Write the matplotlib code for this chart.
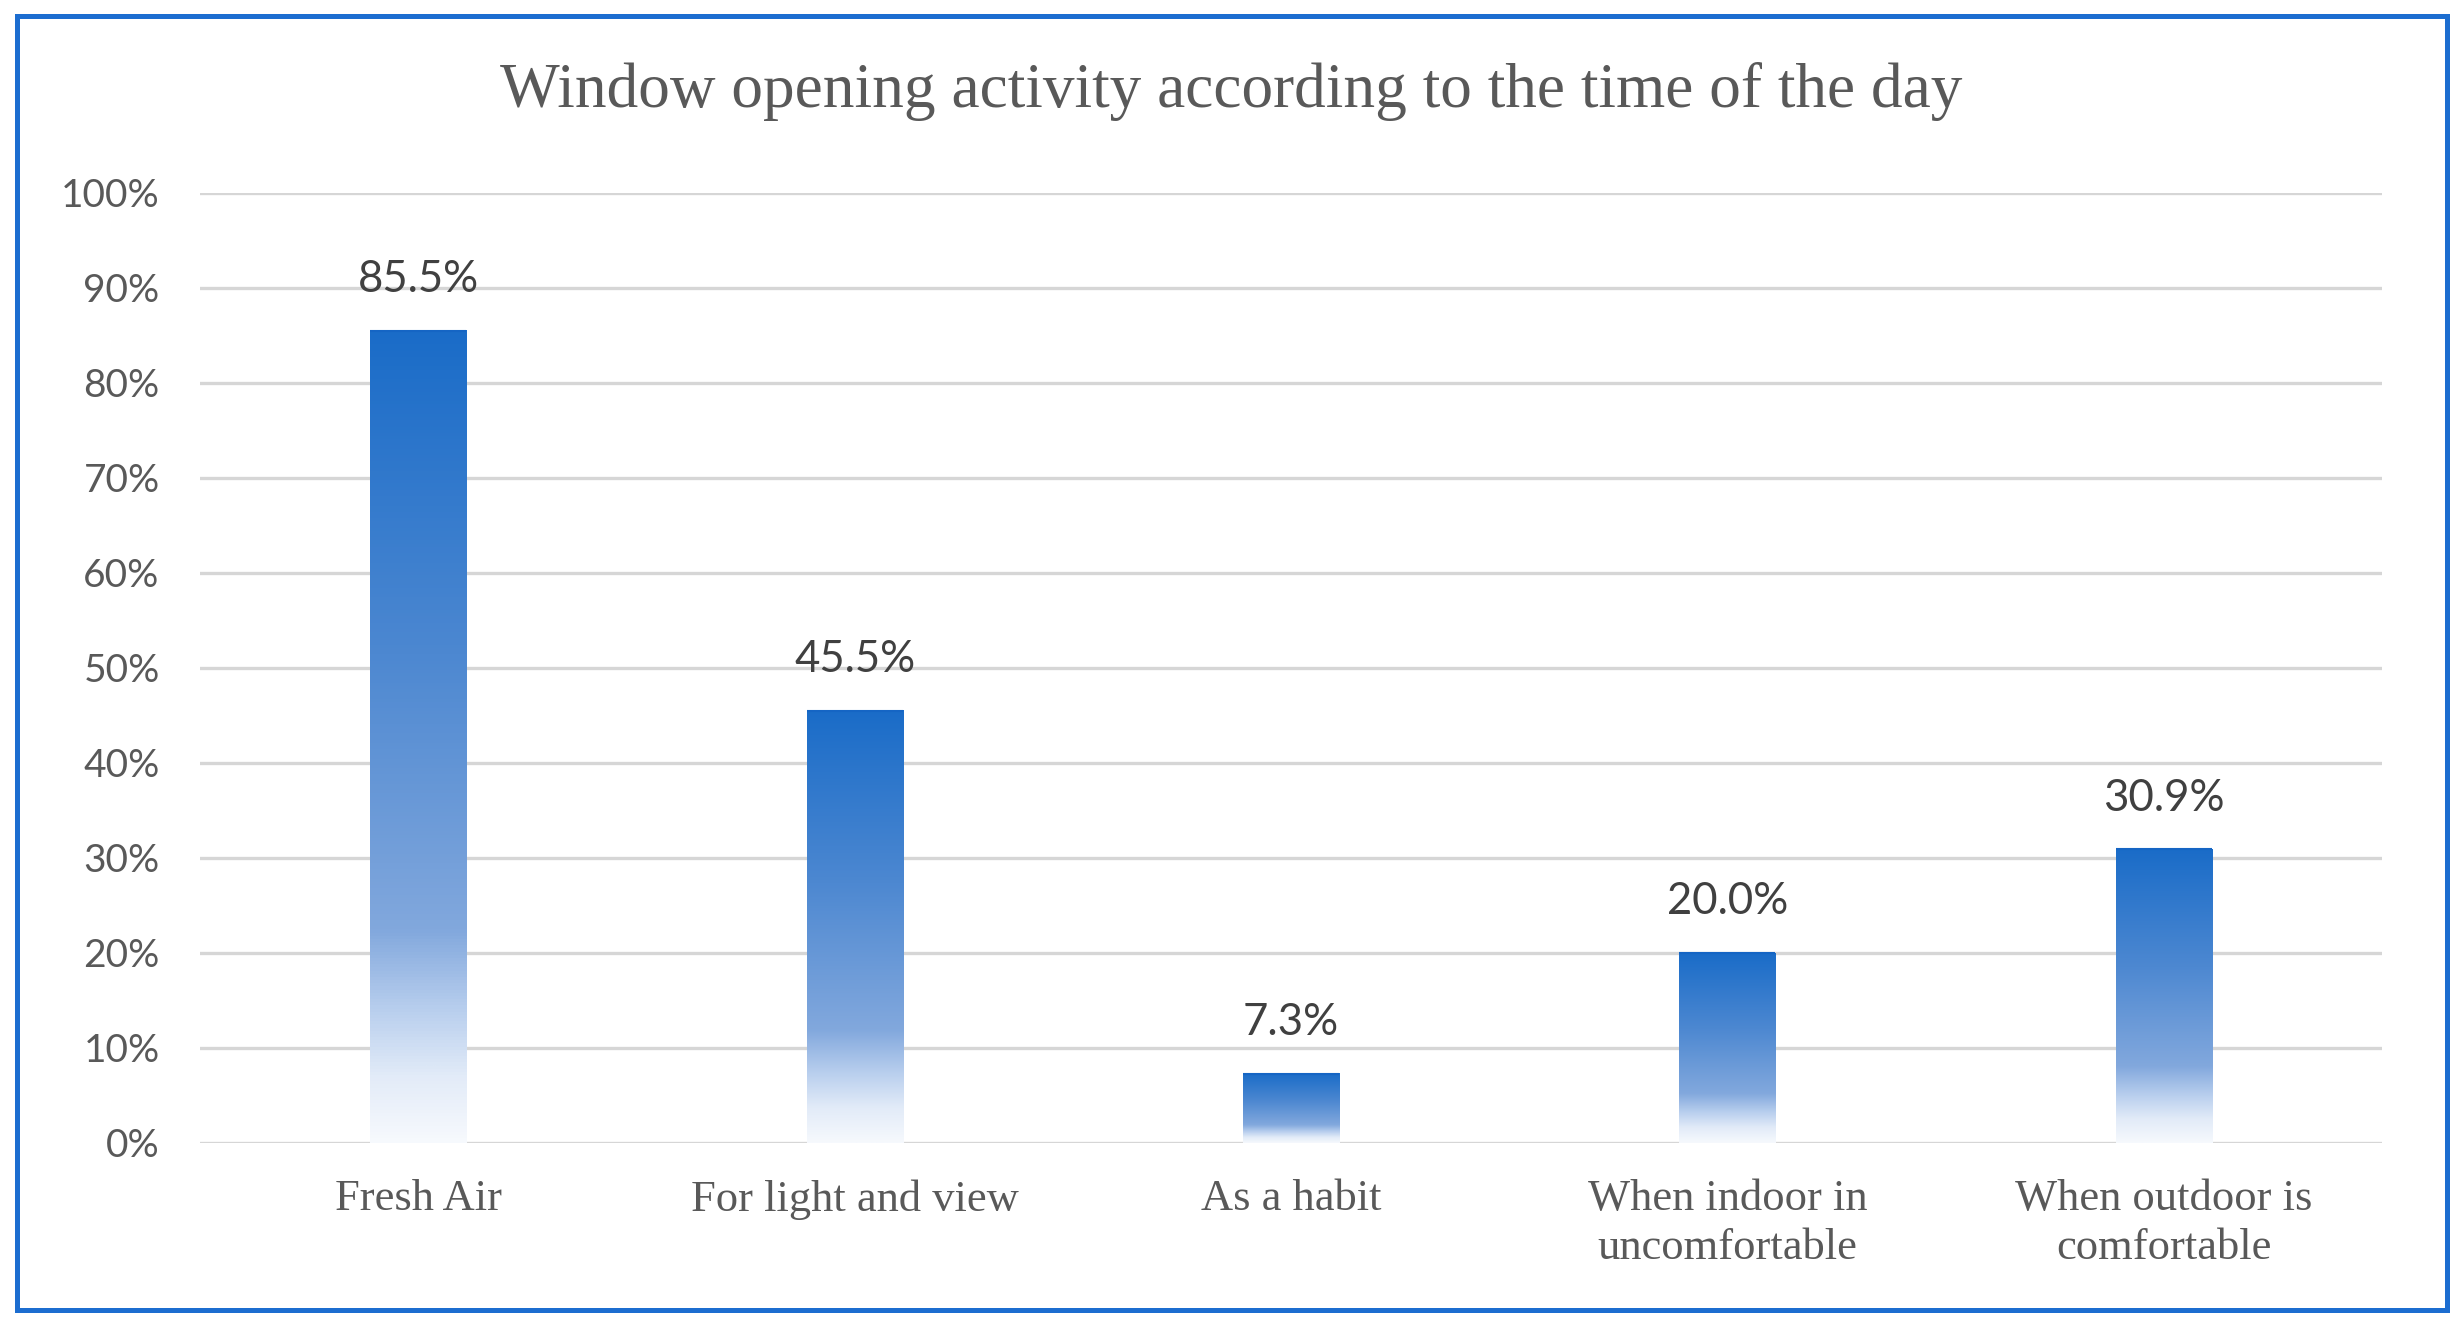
import numpy as np
import matplotlib.pyplot as plt
from matplotlib.colors import LinearSegmentedColormap
from matplotlib.patches import Rectangle

categories = ['Fresh Air', 'For light and view', 'As a habit',
              'When indoor in\nuncomfortable', 'When outdoor is\ncomfortable']
values = [85.5, 45.5, 7.3, 20.0, 30.9]
yticks = [0, 10, 20, 30, 40, 50, 60, 70, 80, 90, 100]
ytick_labels = [f'{t}%' for t in yticks]
title = 'Window opening activity according to the time of the day'

grey = '#595959'
blue_edge = '#1C6DD0'

# gradient from bottom (pale) to top (dark blue)
bar_cmap = LinearSegmentedColormap.from_list('bar', [
    (0.0, '#F6F9FD'),
    (0.08, '#E2EBF8'),
    (0.16, '#B9CFEE'),
    (0.26, '#82A8DD'),
    (0.6, '#4D88D1'),
    (1.0, '#1A6CC8'),
])

fig = plt.figure(figsize=(24.6, 13.29), dpi=100)
ax = fig.add_axes([0.0813, 0.14, 0.887, 0.7148])

x = np.arange(len(categories))
bars = ax.bar(x, values, width=0.22, color='none', edgecolor='none', zorder=3)

grad = np.linspace(0, 1, 256).reshape(-1, 1)
for b in bars:
    x0 = b.get_x()
    w = b.get_width()
    h = b.get_height()
    ax.imshow(grad, cmap=bar_cmap, origin='lower', aspect='auto',
              extent=[x0, x0 + w, 0, h], zorder=2, interpolation='bilinear')
    ax.plot([x0, x0 + w], [h, h], color='#1565C4', lw=1.5, zorder=3,
            solid_capstyle='butt')
    ax.annotate(f'{h:.1f}%', (x0 + w / 2, h), xytext=(0, 28),
                textcoords='offset points', ha='center', va='baseline',
                fontsize=31.5, family='Lato', color='#404040')

ax.set_xlim(-0.5, len(categories) - 0.5)
ax.set_ylim(0, 100)
ax.set_yticks(yticks)
ax.set_yticklabels(ytick_labels, family='Lato', fontsize=28, color=grey)
ax.set_xticks(x)
ax.set_xticklabels(categories, family='Liberation Serif', fontsize=32,
                   color=grey, linespacing=1.3)
ax.tick_params(axis='y', length=0, pad=29)
ax.tick_params(axis='x', length=0, pad=26)

ax.grid(axis='y', color='#D6D6D6', lw=2.4, zorder=0)
ax.set_axisbelow(True)
for s in ax.spines.values():
    s.set_visible(False)

fig.text(0.5004, 0.9315, title, ha='center', va='center',
         family='Liberation Serif', fontsize=45.5, color=grey)

fig.patches.append(Rectangle((0.0069, 0.0143), 0.988, 0.9737,
                             transform=fig.transFigure, fill=False,
                             edgecolor=blue_edge, lw=3.6, zorder=10))

fig.savefig('out.png', dpi=100, facecolor='white')
